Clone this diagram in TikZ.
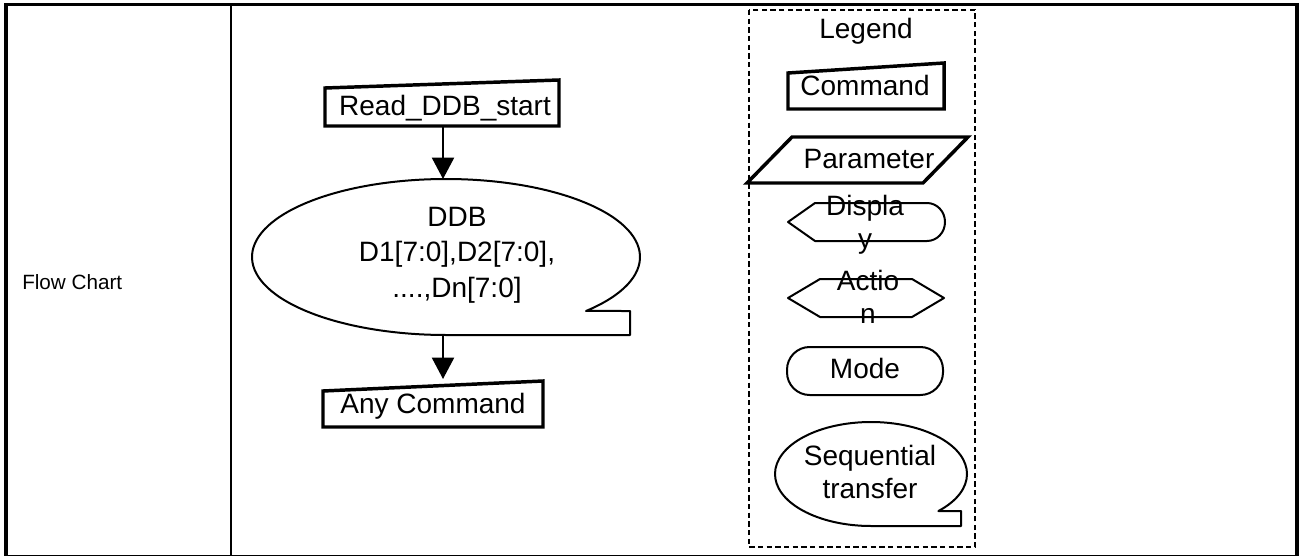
\documentclass[tikz,border=0pt]{standalone}
\usepackage{fontspec}
\setmainfont{Liberation Sans}
\usetikzlibrary{arrows.meta}
\begin{document}
\begin{tikzpicture}[x=0.75pt,y=-0.75pt,
  txt/.style={font=\fontsize{21}{24.75}\selectfont, align=center, inner sep=0pt, anchor=base},
  cmdbox/.style={draw, line width=2.6pt, line join=miter},
  shp/.style={draw, line width=1.5pt, line join=round},
  arr/.style={line width=1.5pt, -{Triangle[width=16.5pt,length=16pt]}},
  legbox/.style={draw, line width=1.5pt, dash pattern=on 4pt off 2.5pt}]
\useasboundingbox (0,0) rectangle (1301,556);
% table frame
\draw[line width=3pt] (6,556) -- (6,3);
\draw[line width=2.25pt] (4,4.5) -- (1299,4.5);
\draw[line width=3pt] (1297,3) -- (1297,556);
\draw[line width=0.9pt] (4,555.3) -- (1299,555.3);
\draw[line width=1.5pt] (231,4) -- (231,555);
\node[font=\fontsize{15.5}{18}\selectfont, inner sep=0pt, anchor=base west] (fc) at (22,289) {Flow Chart};
% flow chart
\draw[cmdbox] (325,88) -- (559,80) -- (559,126) -- (325,126) -- cycle;
\node[txt] (rd) at (445,116) {Read\_DDB\_start};
\coordinate (rdB) at (443,126);
\draw[shp] (446,257) ++(43.8:194 and 78)
  arc[start angle=43.8, end angle=-270, x radius=194, y radius=78]
  -- (630,335) -- (630,311) -- cycle;
\coordinate (ddbT) at (443,179);
\coordinate (ddbB) at (443,335);
\node[txt, font=\fontsize{21}{26.6}\selectfont] (ddb) at (457,297) {DDB\\D1[7:0],D2[7:0],\\....,Dn[7:0]};
\draw[cmdbox] (323,391) -- (543,381) -- (543,427) -- (323,427) -- cycle;
\node[txt] (ac) at (433,413) {Any Command};
\coordinate (acT) at (443,379);
\draw[arr] (rdB) -- (ddbT);
\draw[arr] (ddbB) -- (acT);
% legend
\draw[legbox] (749,10) rectangle (975,547);
\node[txt] (lg) at (866,39) {Legend};
\draw[cmdbox] (788,73) -- (944,63) -- (944,109) -- (788,109) -- cycle;
\node[txt] (lc) at (865,96) {Command};
\draw[cmdbox] (747,183) -- (792,137) -- (968,137) -- (923,183) -- cycle;
\node[txt] (lp) at (869,168) {Parameter};
\draw[shp] (788,222) -- (815,203) -- (927,203)
  arc[start angle=-90, end angle=90, x radius=18, y radius=19]
  -- (815,241) -- cycle;
\node[txt] (ld) at (865,248) {Displa\\y};
\draw[shp] (788,298) -- (820,279) -- (912,279) -- (944,298) -- (912,317) -- (820,317) -- cycle;
\node[txt] (la) at (868,323) {Actio\\n};
\draw[shp, rounded corners=17pt] (787,347) rectangle (943,395);
\node[txt] (lm) at (865,378) {Mode};
\draw[shp] (871,474) ++(45.4:96 and 52)
  arc[start angle=45.4, end angle=-270, x radius=96, y radius=52]
  -- (961,526) -- (961,511) -- cycle;
\node[txt] (ls) at (870,498) {Sequential\\transfer};
\end{tikzpicture}
\end{document}
